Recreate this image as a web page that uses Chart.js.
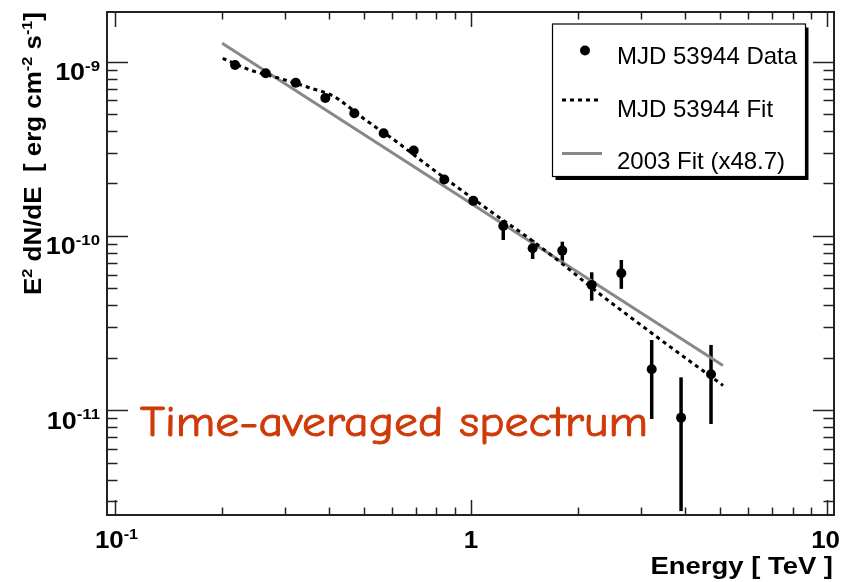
<!DOCTYPE html>
<html><head><meta charset="utf-8">
<script src="https://cdn.jsdelivr.net/npm/chart.js@4.4.0/dist/chart.umd.min.js"></script>
<style>html,body{margin:0;padding:0;background:#fff;}canvas{display:block}</style>
</head><body>
<canvas id="c" width="843" height="582"></canvas>
<script>
// ---- data ----
const energyTeV = [0.2174,0.2651,0.3219,0.3897,0.4702,0.5683,0.6903,0.8414,1.015,1.232,1.490,1.805,2.183,2.644,3.218,3.891,4.723];
const fluxData  = [9.57e-10,8.58e-10,7.57e-10,6.19e-10,5.06e-10,3.88e-10,3.09e-10,2.11e-10,1.59e-10,1.141e-10,8.50e-11,8.24e-11,5.24e-11,6.11e-11,1.72e-11,9.07e-12,1.608e-11];
const fluxLow   = [9.1e-10,8.25e-10,7.3e-10,5.95e-10,4.85e-10,3.72e-10,2.95e-10,2.0e-10,1.5e-10,9.48e-11,7.38e-11,7.12e-11,4.25e-11,4.97e-11,8.91e-12,2.64e-12,8.34e-12];
const fluxHigh  = [1.0e-9,8.9e-10,7.85e-10,6.45e-10,5.28e-10,4.05e-10,3.24e-10,2.23e-10,1.69e-10,1.236e-10,9.48e-11,9.27e-11,6.19e-11,7.28e-11,2.53e-11,1.546e-11,2.37e-11];

const fitE = [0.2006,0.2394,0.2907,0.3530,0.4097,0.4426,0.4972,0.6195,0.7329,0.9135,1.155,1.434,1.778,2.230,3.323,5.105];
const fitF = [1.046e-9,8.96e-10,8.01e-10,7.07e-10,6.36e-10,5.72e-10,4.75e-10,3.46e-10,2.66e-10,1.91e-10,1.35e-10,9.91e-11,7.09e-11,4.88e-11,2.64e-11,1.388e-11];

const refE = [0.2, 5.1];
const refF = [1.275e-9, 1.807e-11];

const seriesNames = ["MJD 53944 Data", "MJD 53944 Fit", "2003 Fit (x48.7)"];
const xTickValues = [0.1, 1, 10];
const xTickLabels = [["10","-1"],["1",""],["10",""]];
const yTickValues = [1e-9, 1e-10, 1e-11];
const yTickLabels = [["10","-9"],["10","-10"],["10","-11"]];
const xTitle = "Energy [ TeV ]";
const yTitle = [["E",false],["2",true],[" dN/dE  [ erg cm",false],["-2",true],[" s",false],["-1",true],["]",false]];
const annotationText = "Time-averaged spectrum";

// ---- helpers ----
const BOLD = "bold 24px 'Liberation Sans', Arial, Helvetica, sans-serif";
const BOLD_SUP = "bold 15px 'Liberation Sans', Arial, Helvetica, sans-serif";
const REG = "24px 'Liberation Sans', Arial, Helvetica, sans-serif";

function richWidth(ctx, segs){
  let w=0; for(const [t,s] of segs){ ctx.font = s?BOLD_SUP:BOLD; w += ctx.measureText(t).width; } return w;
}
function drawRich(ctx, segs, x, y){
  let cx=x;
  for(const [t,s] of segs){ ctx.font = s?BOLD_SUP:BOLD; ctx.fillText(t, cx, s? y-9.5 : y); cx += ctx.measureText(t).width; }
}
function line(ctx,x1,y1,x2,y2){ ctx.beginPath(); ctx.moveTo(x1,y1); ctx.lineTo(x2,y2); ctx.stroke(); }

const rootStyle = {
  id: 'rootStyle',
  beforeDatasetsDraw(chart){
    const ctx = chart.ctx, xs = chart.scales.x, ys = chart.scales.y, a = chart.chartArea;
    ctx.save();
    ctx.beginPath(); ctx.rect(a.left, a.top, a.right-a.left, a.bottom-a.top); ctx.clip();
    ctx.strokeStyle = '#000'; ctx.lineWidth = 3.5; ctx.lineCap='butt';
    for(let i=0;i<energyTeV.length;i++){
      const px = xs.getPixelForValue(energyTeV[i]);
      line(ctx, px, ys.getPixelForValue(fluxLow[i]), px, ys.getPixelForValue(fluxHigh[i]));
    }
    ctx.restore();
  },
  afterDraw(chart){
    const ctx = chart.ctx, xs = chart.scales.x, ys = chart.scales.y, a = chart.chartArea;
    ctx.save();
    ctx.strokeStyle = '#222'; ctx.lineWidth = 1.5;
    for(let e=-2;e<=1;e++) for(let m=1;m<=9;m++){
      const v = m*Math.pow(10,e);
      if(v < xs.min || v > xs.max) continue;
      const px = Math.round(xs.getPixelForValue(v))+0.5;
      const L = m===1 ? 15 : 7.5;
      line(ctx, px, a.bottom, px, a.bottom-L);
      line(ctx, px, a.top, px, a.top+L);
    }
    for(let e=-13;e<=-8;e++) for(let m=1;m<=9;m++){
      const v = m*Math.pow(10,e);
      if(v < ys.min || v > ys.max) continue;
      const py = Math.round(ys.getPixelForValue(v))+0.5;
      const L = m===1 ? 21 : 10.5;
      line(ctx, a.left, py, a.left+L, py);
      line(ctx, a.right, py, a.right-L, py);
    }
    ctx.lineWidth = 2; ctx.strokeStyle='#222';
    ctx.strokeRect(a.left, a.top, a.right-a.left, a.bottom-a.top);

    // tick labels (horizontally stretched like the reference)
    ctx.fillStyle = '#000'; ctx.textBaseline='alphabetic'; ctx.textAlign='left';
    const XS = 1.08, YS = 1.12;
    xTickValues.forEach((v,i)=>{
      const segs = [[xTickLabels[i][0],false]]; if(xTickLabels[i][1]) segs.push([xTickLabels[i][1],true]);
      const w = richWidth(ctx, segs)*XS;
      let px = xs.getPixelForValue(v);
      let x0 = px - w/2 + (xTickLabels[i][1]?1.5:0);
      if(x0 + w > 840) x0 = 840 - w;
      ctx.save(); ctx.translate(x0, 548); ctx.scale(XS,1); drawRich(ctx, segs, 0, 0); ctx.restore();
    });
    yTickValues.forEach((v,i)=>{
      const segs = [[yTickLabels[i][0],false],[yTickLabels[i][1],true]];
      const w = richWidth(ctx, segs)*YS;
      ctx.save(); ctx.translate(100 - w, ys.getPixelForValue(v) + 18.5); ctx.scale(YS,1); drawRich(ctx, segs, 0, 0); ctx.restore();
    });

    // axis titles
    ctx.font = BOLD; ctx.textAlign='left';
    const xw = ctx.measureText(xTitle).width;
    ctx.save(); ctx.translate(833, 574); ctx.scale(182.5/xw, 1);
    ctx.fillText(xTitle, -xw, 0);
    ctx.restore();
    ctx.save();
    ctx.translate(41, 12); ctx.rotate(-Math.PI/2);
    const tw = richWidth(ctx, yTitle);
    ctx.scale(283/tw, 1);
    drawRich(ctx, yTitle, -tw, 0);
    ctx.restore();

    // legend
    const L0=552.5, T0=24, W=253, H=152.5;
    ctx.fillStyle='#000'; ctx.fillRect(L0+3, T0+3.5, W, H);
    ctx.fillStyle='#fff'; ctx.fillRect(L0, T0, W, H);
    ctx.lineWidth=1.2; ctx.strokeStyle='#000'; ctx.strokeRect(L0, T0, W, H);
    const ds = chart.data.datasets;
    ctx.fillStyle = ds[0].backgroundColor;
    ctx.beginPath(); ctx.arc(585, 50.5, 5, 0, Math.PI*2); ctx.fill();
    ctx.strokeStyle = ds[1].borderColor; ctx.lineWidth = ds[1].borderWidth; ctx.setLineDash(ds[1].borderDash);
    line(ctx, 562, 100, 602, 100);
    ctx.setLineDash([]);
    ctx.strokeStyle = ds[2].borderColor; ctx.lineWidth = ds[2].borderWidth;
    line(ctx, 562, 153.5, 602, 153.5);
    ctx.fillStyle='#000'; ctx.font = REG; ctx.textAlign='left';
    ctx.fillText(seriesNames[0], 617, 63.5);
    ctx.fillText(seriesNames[1], 617, 116.5);
    ctx.fillText(seriesNames[2], 617, 168.5);

    // annotation
    ctx.fillStyle = '#cf3a08'; ctx.strokeStyle = '#cf3a08'; ctx.lineWidth = 0.9; ctx.lineJoin='round';
    ctx.font = "42px 'Comic Sans MS', 'Comic Neue', 'Open Sans', sans-serif";
    const aw = ctx.measureText(annotationText).width;
    ctx.save(); ctx.translate(140, 436); ctx.scale(508/aw, 1);
    ctx.fillText(annotationText, 0, 0);
    ctx.strokeText(annotationText, 0, 0);
    ctx.restore();

    ctx.restore();
  }
};

new Chart(document.getElementById('c'), {
  type: 'scatter',
  data: {
    datasets: [
      { label: seriesNames[0], data: energyTeV.map((e,i)=>({x:e, y:fluxData[i]})),
        showLine:false, pointRadius:5, pointHoverRadius:5, backgroundColor:'#000', borderColor:'#000', borderWidth:0 },
      { label: seriesNames[1], data: fitE.map((e,i)=>({x:e, y:fitF[i]})),
        showLine:true, pointRadius:0, borderColor:'#000', borderWidth:3, borderDash:[4,4], cubicInterpolationMode:'monotone', fill:false },
      { label: seriesNames[2], data: refE.map((e,i)=>({x:e, y:refF[i]})),
        showLine:true, pointRadius:0, borderColor:'#888888', borderWidth:3, fill:false }
    ]
  },
  options: {
    responsive:false, animation:false, devicePixelRatio:1,
    layout:{ padding:{ left:107, top:12, right:9, bottom:67 } },
    plugins:{ legend:{display:false}, tooltip:{enabled:false} },
    scales:{
      x:{ type:'logarithmic', display:false, min:0.09496, max:10.463 },
      y:{ type:'logarithmic', display:false, min:2.507e-12, max:1.927e-9 }
    }
  },
  plugins:[rootStyle]
});
</script>
</body></html>
